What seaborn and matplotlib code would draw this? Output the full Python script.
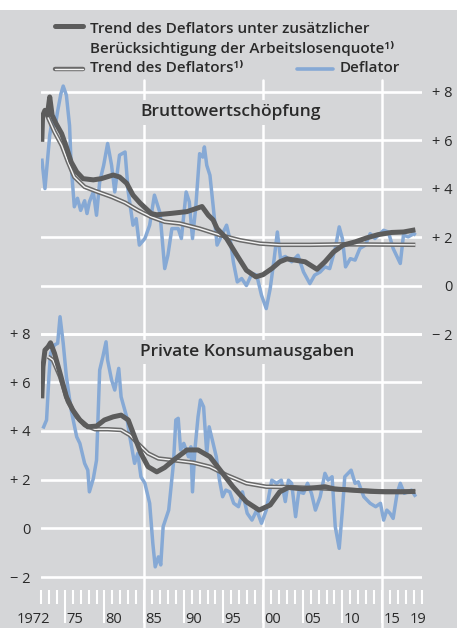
import matplotlib
matplotlib.use("Agg")
import matplotlib.pyplot as plt
import matplotlib.patheffects as pe
from matplotlib.lines import Line2D
from matplotlib.patches import Rectangle
import seaborn as sns

# --- data (annual growth rates in %) ---------------------------------------
# Bruttowertschöpfung
bws_defl_years = [1972.1, 1972.5, 1973.1, 1973.5, 1973.8, 1974.1, 1974.5, 1974.8, 1975.2, 1975.6,
                  1975.8, 1976.2, 1976.6, 1977.0, 1977.5, 1977.8, 1978.1, 1978.6, 1979.0, 1979.4,
                  1979.9, 1980.4, 1980.9, 1981.3, 1981.9, 1982.6, 1983.0, 1983.6, 1984.0, 1984.4,
                  1985.1, 1985.7, 1986.3, 1987.0, 1987.6, 1988.0, 1988.5, 1989.3, 1989.7, 1990.3,
                  1990.7, 1991.1, 1991.5, 1992.0, 1992.4, 1992.6, 1992.9, 1993.3, 1993.7, 1994.2,
                  1994.8, 1995.4, 1995.9, 1996.25, 1996.75, 1997.3, 1997.9, 1998.6, 1999.2, 1999.8,
                  2000.4, 2000.9, 2001.4, 2001.8, 2002.2, 2002.8, 2003.6, 2004.4, 2005.1, 2005.9,
                  2006.5, 2007.2, 2007.8, 2008.4, 2009.1, 2009.6, 2010.0, 2010.4, 2011.0, 2011.6,
                  2012.2, 2012.9, 2013.5, 2014.1, 2015.2, 2015.8, 2016.4, 2017.3, 2017.7, 2018.3,
                  2019.0, 2019.25]
bws_defl = [5.24, 4.0, 6.2, 7.0, 6.6, 7.2, 7.9, 8.23, 7.85, 6.6,
            4.96, 3.25, 3.6, 3.1, 3.5, 2.97, 3.45, 3.86, 2.9, 4.28,
            4.96, 5.86, 4.96, 3.86, 5.38, 5.51, 3.86, 2.49, 2.76, 1.67,
            1.94, 2.49, 3.73, 3.0, 0.7, 1.25, 2.35, 2.35, 1.94, 3.86,
            3.45, 1.94, 3.18, 5.44, 5.3, 5.72, 4.96, 4.55, 3.3, 1.67,
            2.08, 2.49, 1.8, 0.98, 0.15, 0.29, 0.0, 0.5, 0.43, -0.4,
            -0.95, -0.12, 1.11, 2.21, 1.11, 1.2, 0.98, 1.25, 0.56, 0.08,
            0.43, 0.56, 0.77, 0.7, 1.53, 2.42, 1.94, 0.77, 1.11, 1.05,
            1.53, 1.67, 2.14, 1.94, 2.28, 2.21, 1.53, 0.91, 2.08, 2.01,
            2.14, 2.08]
bws_trend_years = [1972.8, 1973.7, 1974.6, 1975.4, 1976.2, 1977.5, 1979.2, 1980.9, 1982.6, 1984.2,
                   1985.9, 1987.6, 1989.5, 1992.0, 1994.6, 1997.1, 1999.6, 2002.1, 2006.0, 2010.0,
                   2015.0, 2019.2]
bws_trend = [7.0, 6.34, 5.79, 5.1, 4.48, 4.07, 3.86, 3.66, 3.42, 3.11,
             2.83, 2.63, 2.56, 2.35, 2.08, 1.87, 1.73, 1.68, 1.68, 1.7,
             1.69, 1.68]
bws_trend_alq_years = [1972.1, 1972.2, 1972.5, 1972.8, 1973.1, 1973.4, 1973.9, 1974.6, 1975.2, 1975.8,
                       1976.5, 1977.3, 1978.6, 1979.6, 1981.1, 1981.9, 1982.8, 1983.6, 1984.5, 1985.9,
                       1986.6, 1988.5, 1990.4, 1992.3, 1993.1, 1993.7, 1994.2, 1995.4, 1996.7, 1997.9,
                       1999.1, 2000.0, 2001.1, 2002.1, 2003.0, 2004.0, 2005.3, 2006.8, 2007.8, 2008.9,
                       2010.1, 2011.6, 2013.1, 2014.5, 2016.2, 2017.7, 2019.2]
bws_trend_alq = [5.93, 7.0, 7.23, 7.03, 7.78, 7.03, 6.68, 6.27, 5.72, 5.1,
                 4.69, 4.41, 4.36, 4.41, 4.56, 4.48, 4.22, 3.73, 3.4, 2.97,
                 2.92, 2.98, 3.05, 3.26, 2.9, 2.71, 2.35, 1.94, 1.25, 0.63,
                 0.36, 0.45, 0.7, 0.98, 1.1, 1.05, 0.98, 0.67, 0.98, 1.39,
                 1.67, 1.8, 1.97, 2.1, 2.19, 2.21, 2.3]

# Private Konsumausgaben
pk_defl_years = [1972.25, 1972.7, 1973.0, 1973.2, 1973.7, 1974.1, 1974.4, 1974.8, 1975.2, 1975.8,
                 1976.5, 1976.9, 1977.5, 1977.9, 1978.1, 1978.6, 1979.0, 1979.4, 1979.8, 1980.2,
                 1980.4, 1980.9, 1981.3, 1981.8, 1982.1, 1982.8, 1983.2, 1983.8, 1984.2, 1984.6,
                 1985.1, 1985.7, 1986.1, 1986.4, 1986.8, 1987.1, 1987.4, 1988.1, 1988.7, 1989.0,
                 1989.3, 1989.6, 1990.0, 1990.6, 1990.9, 1991.1, 1991.4, 1991.8, 1992.1, 1992.5,
                 1992.9, 1993.2, 1993.6, 1994.1, 1994.5, 1994.9, 1995.3, 1995.8, 1996.3, 1996.9,
                 1997.4, 1998.0, 1998.6, 1999.2, 1999.8, 2000.4, 2001.1, 2001.7, 2002.3, 2002.8,
                 2003.2, 2003.6, 2004.1, 2004.5, 2005.1, 2005.6, 2006.1, 2006.6, 2007.2, 2007.8,
                 2008.2, 2008.7, 2009.1, 2009.6, 2010.0, 2010.3, 2011.1, 2011.6, 2012.0, 2012.7,
                 2013.5, 2014.2, 2014.8, 2015.2, 2015.6, 2016.0, 2016.4, 2016.9, 2017.3, 2017.8,
                 2018.3, 2018.7, 2019.25]
pk_defl = [4.1, 4.45, 6.23, 7.19, 7.53, 7.6, 8.69, 7.6, 6.23, 4.86,
           3.76, 3.49, 2.67, 2.39, 1.5, 2.05, 2.8, 6.5, 7.05, 7.66,
           6.91, 6.09, 5.68, 6.57, 5.4, 4.58, 3.76, 2.67, 3.08, 2.12,
           1.85, 1.03, -0.62, -1.58, -1.17, -1.5, 0.07, 0.75, 2.67, 4.45,
           4.52, 3.22, 3.49, 2.94, 3.35, 1.5, 3.22, 4.58, 5.27, 4.99,
           3.08, 4.17, 3.63, 2.94, 1.98, 1.3, 1.57, 1.5, 1.03, 0.89,
           1.5, 0.62, 0.34, 0.75, 0.21, 0.75, 1.98, 1.85, 1.98, 1.1,
           1.98, 1.85, 0.48, 1.5, 1.44, 1.85, 1.44, 0.75, 1.3, 2.26,
           1.98, 2.12, 0.07, -0.82, 0.75, 2.12, 2.39, 1.85, 1.91, 1.3,
           1.03, 0.89, 1.03, 0.34, 0.75, 0.62, 0.41, 1.44, 1.85, 1.44,
           1.5, 1.57, 1.3]
pk_trend_years = [1972.9, 1973.5, 1974.4, 1975.4, 1976.5, 1977.5, 1978.8, 1980.4, 1982.1, 1983.2,
                  1984.2, 1985.5, 1986.8, 1988.7, 1991.2, 1993.3, 1995.4, 1997.9, 2000.4, 2003.0,
                  2007.0, 2011.0, 2015.0, 2019.2]
pk_trend = [7.05, 6.91, 6.23, 5.2, 4.58, 4.24, 4.07, 4.07, 4.04, 3.83,
            3.49, 3.08, 2.87, 2.8, 2.7, 2.53, 2.19, 1.85, 1.71, 1.7,
            1.65, 1.58, 1.52, 1.5]
pk_trend_alq_years = [1972.1, 1972.25, 1972.5, 1972.9, 1973.2, 1973.7, 1974.4, 1975.2, 1976.0, 1976.9,
                      1977.9, 1979.0, 1980.0, 1981.1, 1982.1, 1983.0, 1983.8, 1984.6, 1985.5, 1986.6,
                      1987.6, 1988.7, 1990.4, 1991.8, 1993.3, 1994.6, 1996.2, 1997.9, 1999.5, 2000.9,
                      2002.1, 2003.2, 2005.0, 2007.8, 2009.0, 2011.2, 2013.5, 2015.4, 2017.5, 2019.2]
pk_trend_alq = [5.34, 6.64, 7.32, 7.46, 7.62, 7.19, 6.37, 5.4, 4.86, 4.45,
                4.17, 4.2, 4.45, 4.58, 4.65, 4.45, 3.76, 3.08, 2.53, 2.32,
                2.5, 2.8, 3.22, 3.22, 2.94, 2.39, 1.71, 1.09, 0.75, 0.96,
                1.5, 1.68, 1.62, 1.71, 1.62, 1.57, 1.52, 1.5, 1.5, 1.52]

ytick_values = [-2, 0, 2, 4, 6, 8]
ytick_labels = ["\u2212 2", "0", "+ 2", "+ 4", "+ 6", "+ 8"]
xlabel_years = [1972, 1975, 1980, 1985, 1990, 1995, 2000, 2005, 2010, 2015, 2019]
xlabel_texts = ["1972", "75", "80", "85", "90", "95", "00", "05", "10", "15", "19"]
vgrid_years = [1985, 2000, 2015]

BG = "#d5d6d8"
BLUE = "#86a9d5"
DARK = "#5c5c5c"
TXT = "#2a2a2a"

sns.set_theme(style="white", rc={"figure.facecolor": BG, "axes.facecolor": BG})
plt.rcParams["font.family"] = ["Open Sans", "DejaVu Sans"]

W, H = 457, 628
fig = plt.figure(figsize=(W / 100, H / 100), dpi=100)
fig.patches.append(Rectangle((0, 1 - 10 / H), 1, 10 / H, transform=fig.transFigure,
                             facecolor="white", edgecolor="none"))

rect = [41 / W, 1 - 590 / H, (421.7 - 41) / W, 510 / H]
ax_top = fig.add_axes(rect)
ax_bot = fig.add_axes(rect, sharex=ax_top)
ax_bot.set_facecolor("none")

ax_top.set_ylim(-12.56, 8.48)
ax_bot.set_ylim(-2.53, 18.41)
ax_top.set_xlim(1972, 2020)

round_kw = dict(solid_joinstyle="round", solid_capstyle="butt")


def draw_panel(ax, dy, dv, ty, tv, uy, uv):
    sns.lineplot(x=dy, y=dv, ax=ax, color=BLUE, linewidth=2.5, sort=False, zorder=3, **round_kw)
    sns.lineplot(x=ty, y=tv, ax=ax, color="#f4f4f4", linewidth=1.0, sort=False, zorder=4,
                 path_effects=[pe.Stroke(linewidth=3.2, foreground="#6a6a6a", joinstyle="round"),
                               pe.Normal()], **round_kw)
    sns.lineplot(x=uy, y=uv, ax=ax, color=DARK, linewidth=3.6, sort=False, zorder=5, **round_kw)


draw_panel(ax_top, bws_defl_years, bws_defl, bws_trend_years, bws_trend,
           bws_trend_alq_years, bws_trend_alq)
draw_panel(ax_bot, pk_defl_years, pk_defl, pk_trend_years, pk_trend,
           pk_trend_alq_years, pk_trend_alq)

for ax in (ax_top, ax_bot):
    for s in ax.spines.values():
        s.set_visible(False)
    ax.set_xlabel("")
    ax.set_ylabel("")
    ax.set_yticks(ytick_values)
    ax.set_yticklabels(ytick_labels)
    ax.grid(axis="y", color="white", linewidth=1.9)
    ax.grid(axis="x", visible=False)
    ax.set_axisbelow(True)

# right-hand scale for the upper panel, left-hand scale for the lower one
ax_top.yaxis.tick_right()
ax_top.tick_params(axis="y", length=0, pad=22.5, labelsize=10.5, labelcolor=TXT)
for lab in ax_top.get_yticklabels():
    lab.set_horizontalalignment("right")
ax_bot.tick_params(axis="y", length=0, pad=7.4, labelsize=10.5, labelcolor=TXT)
ax_top.tick_params(axis="x", bottom=False, labelbottom=False)

for yr in vgrid_years:
    ax_top.axvline(yr, ymin=-0.075, ymax=1, color="white", linewidth=1.8, clip_on=False, zorder=1)

# year ticks
ax_bot.set_xticks(range(1975, 2016, 5))
ax_bot.set_xticklabels([])
ax_bot.set_xticks(range(1972, 2021), minor=True)
ax_bot.tick_params(axis="x", which="both", bottom=True, direction="out", colors="white", width=1.5)
ax_bot.tick_params(axis="x", which="major", length=24)
ax_bot.tick_params(axis="x", which="minor", length=10)

xt = ax_bot.get_xaxis_transform()
for yr, txt in zip(xlabel_years, xlabel_texts):
    if txt == "1972":
        x, ha = yr - 0.9, "center"
    elif txt == "19":
        x, ha = yr + 0.5, "center"
    else:
        x, ha = yr + 0.15, "left"
    ax_bot.text(x, -0.057, txt, transform=xt, ha=ha, va="center", fontsize=10.5,
                color=TXT, clip_on=False)

# panel titles
title_kw = dict(ha="left", va="center", fontsize=12.5, weight="semibold", color=TXT, zorder=6,
                bbox=dict(boxstyle="square,pad=0.25", facecolor=BG, edgecolor="none"))
ax_top.text(1984.5, 7.15, "Bruttowertschöpfung", **title_kw)
ax_bot.text(1984.5, 7.24, "Private Konsumausgaben", **title_kw)

# legend
def fx(px):
    return px / W


def fy(py):
    return 1 - py / H


leg_kw = dict(fontsize=11, weight="semibold", color=TXT, va="center", ha="left")
fig.add_artist(Line2D([fx(55), fx(83)], [fy(26), fy(26)], color=DARK, linewidth=3.6,
                      transform=fig.transFigure))
fig.text(fx(90), fy(29), "Trend des Deflators unter zusätzlicher", **leg_kw)
fig.text(fx(90), fy(48), "Berücksichtigung der Arbeitslosenquote\u00b9\u207e", **leg_kw)
fig.add_artist(Line2D([fx(55), fx(83)], [fy(69), fy(69)], color="#f4f4f4", linewidth=1.0,
                      transform=fig.transFigure,
                      path_effects=[pe.Stroke(linewidth=3.2, foreground="#6a6a6a"), pe.Normal()]))
fig.text(fx(90), fy(68), "Trend des Deflators\u00b9\u207e", **leg_kw)
fig.add_artist(Line2D([fx(297), fx(333)], [fy(69), fy(69)], color=BLUE, linewidth=2.6,
                      transform=fig.transFigure))
fig.text(fx(340), fy(68), "Deflator", **leg_kw)

fig.savefig("out.png", dpi=100, facecolor=BG)
